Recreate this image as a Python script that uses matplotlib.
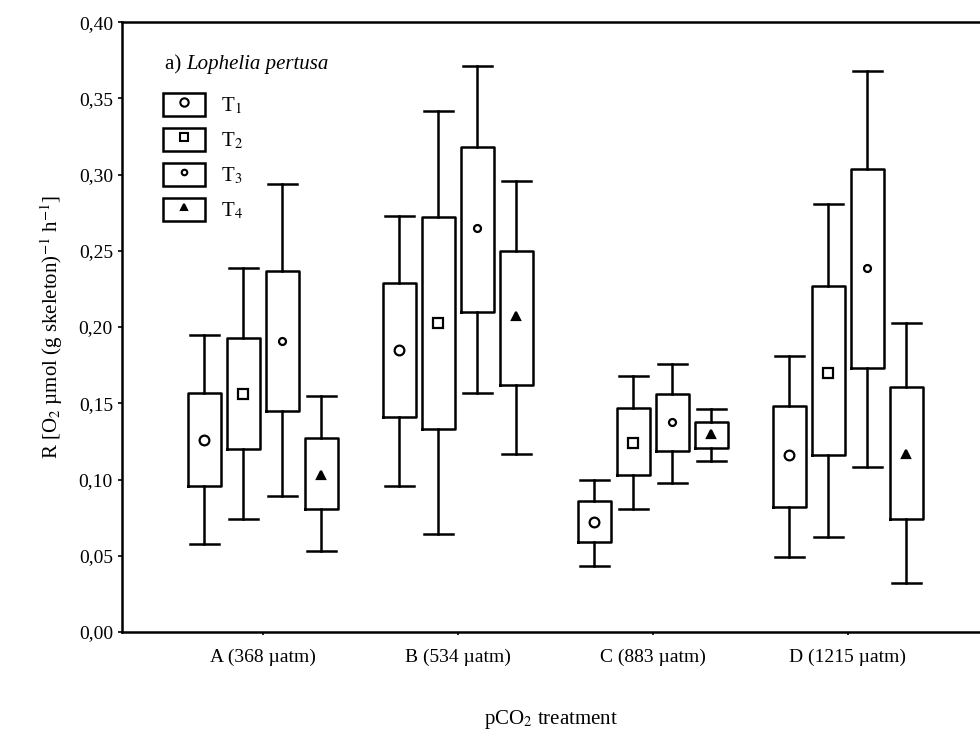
import matplotlib.pyplot as plt
from matplotlib.patches import Rectangle
from matplotlib.lines import Line2D
from matplotlib.legend_handler import HandlerTuple

plt.rcParams['font.family'] = ['Liberation Serif', 'DejaVu Serif']
plt.rcParams['mathtext.fontset'] = 'stix'

groups = ['A (368 µatm)', 'B (534 µatm)', 'C (883 µatm)', 'D (1215 µatm)']
labels = ['T$_1$', 'T$_2$', 'T$_3$', 'T$_4$']

# per treatment T1..T4, values for groups A..D
whis_lo = [[0.058, 0.096, 0.043, 0.049],
           [0.074, 0.064, 0.081, 0.062],
           [0.089, 0.157, 0.098, 0.108],
           [0.053, 0.117, 0.112, 0.032]]
q1 = [[0.096, 0.141, 0.059, 0.082],
      [0.120, 0.133, 0.103, 0.116],
      [0.145, 0.210, 0.119, 0.173],
      [0.081, 0.162, 0.121, 0.074]]
q3 = [[0.157, 0.229, 0.086, 0.148],
      [0.193, 0.272, 0.147, 0.227],
      [0.237, 0.318, 0.156, 0.304],
      [0.127, 0.250, 0.138, 0.161]]
whis_hi = [[0.195, 0.273, 0.100, 0.181],
           [0.239, 0.342, 0.168, 0.281],
           [0.294, 0.371, 0.176, 0.368],
           [0.155, 0.296, 0.146, 0.203]]
means = [[0.126, 0.185, 0.072, 0.116],
         [0.156, 0.203, 0.124, 0.170],
         [0.191, 0.265, 0.138, 0.239],
         [0.103, 0.207, 0.130, 0.117]]

markers = ['o', 's', 'o', '^']
msizes = [7, 7, 5, 6]
mfaces = ['white', 'white', 'white', 'black']

fig = plt.figure(figsize=(9.8, 7.38), dpi=100)
ax = fig.add_axes([0.1245, 0.1436, 0.8755, 0.8264])

offsets = [-0.3, -0.1, 0.1, 0.3]
for t in range(4):
    stats = []
    for g in range(4):
        stats.append(dict(whislo=whis_lo[t][g], q1=q1[t][g], med=means[t][g],
                          q3=q3[t][g], whishi=whis_hi[t][g], mean=means[t][g],
                          fliers=[]))
    pos = [g + offsets[t] for g in range(4)]
    ax.bxp(stats, positions=pos, widths=0.165, showmeans=True, showfliers=False,
           capwidths=0.15, manage_ticks=False,
           boxprops=dict(color='black', linewidth=1.8),
           whiskerprops=dict(color='black', linewidth=1.8),
           capprops=dict(color='black', linewidth=1.8),
           medianprops=dict(linewidth=0),
           meanprops=dict(marker=markers[t], markersize=msizes[t],
                          markerfacecolor=mfaces[t], markeredgecolor='black',
                          markeredgewidth=1.6, linestyle='none'))

ax.set_xlim(-0.723, 3.677)
ax.set_ylim(0, 0.40)
ax.set_xticks(range(4))
ax.set_xticklabels(groups)
ax.set_yticks([0.0, 0.05, 0.10, 0.15, 0.20, 0.25, 0.30, 0.35, 0.40])
ax.set_yticklabels(['0,00', '0,05', '0,10', '0,15', '0,20', '0,25', '0,30', '0,35', '0,40'])
ax.tick_params(labelsize=14, length=3, width=1.2)
ax.tick_params(axis='x', length=2, pad=10)
for s in ['left', 'bottom', 'top']:
    ax.spines[s].set_linewidth(1.8)
ax.spines['right'].set_visible(False)

ax.set_ylabel('R [O$_2$ µmol (g skeleton)$^{-1}$ h$^{-1}$]', fontsize=15, labelpad=10)
ax.set_xlabel('pCO$_2$ treatment', fontsize=15, labelpad=30)

ax.text(0.05, 0.93, 'a) ', transform=ax.transAxes, fontsize=15, ha='left', va='center')
ax.text(0.075, 0.93, 'Lophelia pertusa', transform=ax.transAxes, fontsize=15,
        style='italic', ha='left', va='center')

handles = []
for t in range(4):
    rect = Rectangle((0, 0), 1, 1, facecolor='white', edgecolor='black', linewidth=1.8)
    mk = Line2D([], [], marker=markers[t], markersize=msizes[t] - 1, linestyle='none',
                markerfacecolor=mfaces[t], markeredgecolor='black', markeredgewidth=1.5)
    handles.append((rect, mk))
ax.legend(handles, labels, handler_map={tuple: HandlerTuple(ndivide=1)},
          loc='upper left', bbox_to_anchor=(0.038, 0.898), frameon=False,
          fontsize=15, handlelength=2.0, handleheight=1.35, labelspacing=0.55,
          handletextpad=0.8, borderaxespad=0)

fig.savefig('out.png', dpi=100)
